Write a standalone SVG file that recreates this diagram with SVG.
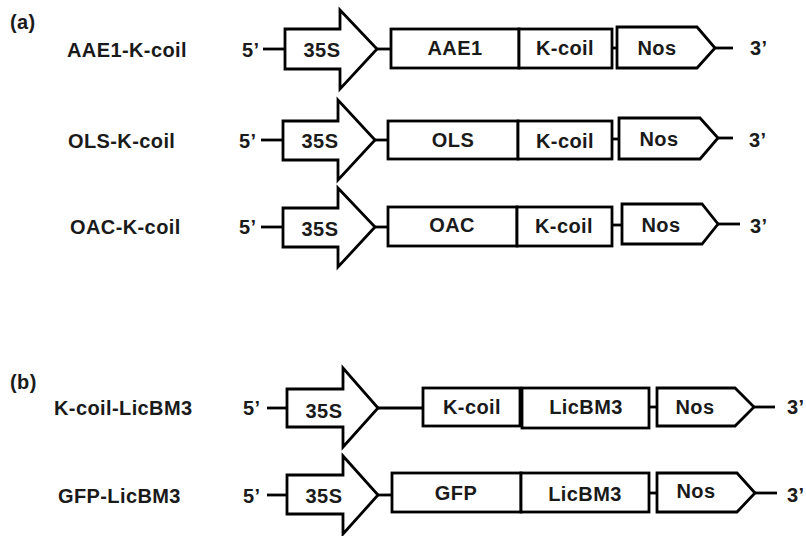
<svg xmlns="http://www.w3.org/2000/svg" width="806" height="536" viewBox="0 0 806 536">
<style>
.s{fill:#fff;stroke:#000;stroke-width:2.8;stroke-linejoin:miter}
.l{stroke:#000;stroke-width:2.8;fill:none}
text{font-family:"Liberation Sans",Arial,sans-serif;font-weight:bold;font-size:20px;fill:#1a1a1a;letter-spacing:0.4px}
.m{text-anchor:middle}
</style>
<rect width="806" height="536" fill="#fff"/>
<text x="10" y="29">(a)</text>
<text x="10" y="389">(b)</text>
<g id="connectors">
<line class="l" x1="263" y1="49" x2="285" y2="49"/>
<line class="l" x1="377" y1="49" x2="391" y2="49"/>
<line class="l" x1="612" y1="48" x2="617" y2="48"/>
<line class="l" x1="715" y1="48" x2="733" y2="48"/>
<line class="l" x1="261" y1="140" x2="283" y2="140"/>
<line class="l" x1="375" y1="140" x2="388" y2="140"/>
<line class="l" x1="612" y1="139" x2="619" y2="139"/>
<line class="l" x1="718" y1="138" x2="733" y2="138"/>
<line class="l" x1="261" y1="227" x2="283" y2="227"/>
<line class="l" x1="375" y1="227" x2="388" y2="227"/>
<line class="l" x1="612" y1="225" x2="622" y2="225"/>
<line class="l" x1="718" y1="224" x2="740" y2="224"/>
<line class="l" x1="267" y1="408" x2="287" y2="408"/>
<line class="l" x1="378" y1="408" x2="423" y2="408"/>
<line class="l" x1="649" y1="407" x2="657" y2="407"/>
<line class="l" x1="754" y1="407" x2="775" y2="407"/>
<line class="l" x1="267" y1="495" x2="287" y2="495"/>
<line class="l" x1="378" y1="495" x2="392" y2="495"/>
<line class="l" x1="649" y1="493" x2="657" y2="493"/>
<line class="l" x1="755" y1="493" x2="777" y2="493"/>
</g>
<g id="row1">
<text x="67" y="57">AAE1-K-coil</text>
<text x="242" y="57">5’</text>
<g id="r1-35S"><polygon class="s" points="285,29 340,29 340,10 377,49 340,89 340,69 285,69"/><text class="m" x="322" y="57">35S</text></g>
<g id="r1-AAE1"><rect class="s" x="391" y="29" width="128" height="39"/><text class="m" x="455" y="55">AAE1</text></g>
<g id="r1-Kcoil"><rect class="s" x="519" y="29" width="93" height="39"/><text class="m" x="565" y="55">K-coil</text></g>
<g id="r1-Nos"><polygon class="s" points="617,27 697,27 715,48 697,68 617,68"/><text class="m" x="657" y="55">Nos</text></g>
<text x="750" y="55">3’</text>
</g>
<g id="row2">
<text x="68" y="148">OLS-K-coil</text>
<text x="239" y="148">5’</text>
<g id="r2-35S"><polygon class="s" points="283,121 338,121 338,100 375,140 338,180 338,160 283,160"/><text class="m" x="320" y="148">35S</text></g>
<g id="r2-OLS"><rect class="s" x="388" y="121" width="130" height="38"/><text class="m" x="453" y="147">OLS</text></g>
<g id="r2-Kcoil"><rect class="s" x="518" y="121" width="94" height="38"/><text class="m" x="565" y="148">K-coil</text></g>
<g id="r2-Nos"><polygon class="s" points="619,118 700,118 718,138 700,159 619,159"/><text class="m" x="659" y="146">Nos</text></g>
<text x="749" y="147">3’</text>
</g>
<g id="row3">
<text x="70" y="234">OAC-K-coil</text>
<text x="239" y="234">5’</text>
<g id="r3-35S"><polygon class="s" points="283,208 338,208 338,188 375,227 338,267 338,247 283,247"/><text class="m" x="320" y="236">35S</text></g>
<g id="r3-OAC"><rect class="s" x="388" y="207" width="129" height="39"/><text class="m" x="452" y="232">OAC</text></g>
<g id="r3-Kcoil"><rect class="s" x="517" y="207" width="95" height="39"/><text class="m" x="564" y="233">K-coil</text></g>
<g id="r3-Nos"><polygon class="s" points="622,204 702,204 718,224 702,244 622,244"/><text class="m" x="661" y="232">Nos</text></g>
<text x="750" y="233">3’</text>
</g>
<g id="row4">
<text x="54" y="415">K-coil-LicBM3</text>
<text x="243" y="415">5’</text>
<g id="r4-35S"><polygon class="s" points="287,389 343,389 343,368 378,408 343,447 343,427 287,427"/><text class="m" x="324" y="418">35S</text></g>
<g id="r4-Kcoil"><rect class="s" x="423" y="388" width="97" height="38"/><text class="m" x="472" y="414">K-coil</text></g>
<g id="r4-LicBM3"><rect class="s" x="522" y="388" width="127" height="40"/><text class="m" x="586" y="414">LicBM3</text></g>
<g id="r4-Nos"><polygon class="s" points="657,388 735,388 754,407 735,426 657,426"/><text class="m" x="695" y="414">Nos</text></g>
<text x="787" y="414">3’</text>
</g>
<g id="row5">
<text x="58" y="503">GFP-LicBM3</text>
<text x="243" y="503">5’</text>
<g id="r5-35S"><polygon class="s" points="287,475 343,475 343,456 378,495 343,534 343,514 287,514"/><text class="m" x="324" y="503">35S</text></g>
<g id="r5-GFP"><rect class="s" x="392" y="473" width="129" height="39"/><text class="m" x="456" y="500">GFP</text></g>
<g id="r5-LicBM3"><rect class="s" x="521" y="473" width="128" height="39"/><text class="m" x="585" y="501">LicBM3</text></g>
<g id="r5-Nos"><polygon class="s" points="657,473 737,473 755,493 737,512 657,512"/><text class="m" x="696" y="498">Nos</text></g>
<text x="787" y="502">3’</text>
</g>
</svg>
